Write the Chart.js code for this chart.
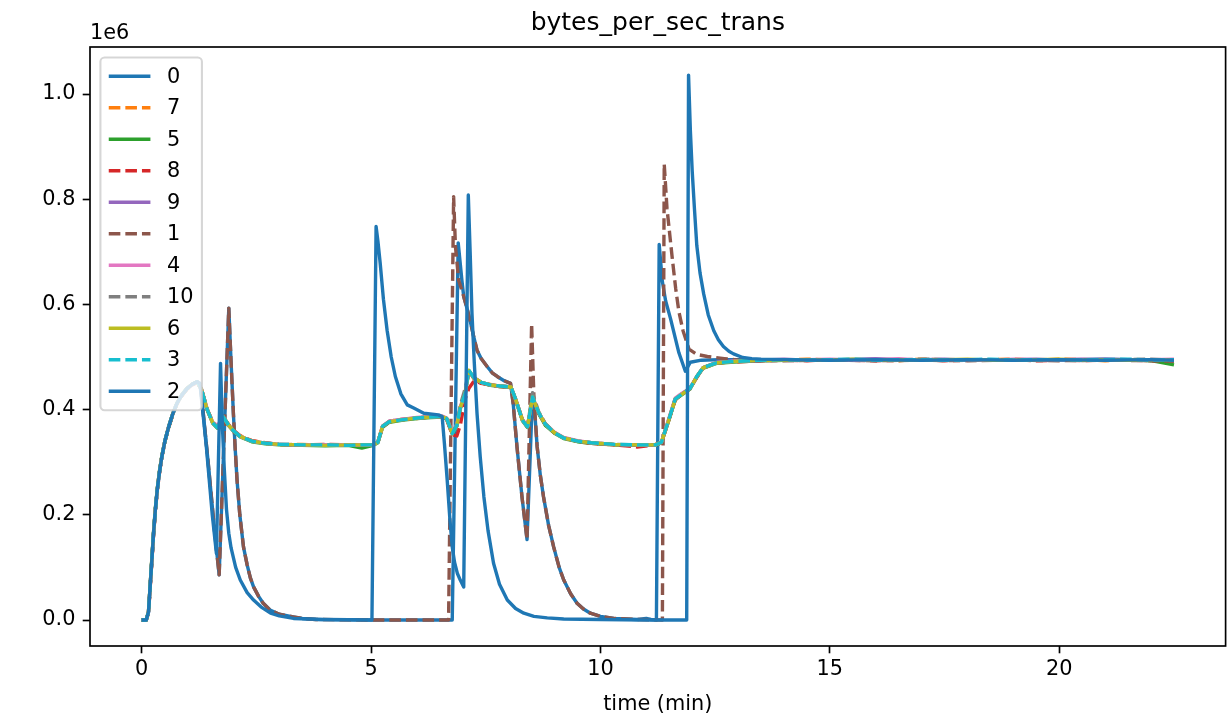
<!DOCTYPE html>
<html><head><meta charset="utf-8">
<script src="https://cdn.jsdelivr.net/npm/chart.js@4/dist/chart.umd.min.js"></script>
<style>html,body{margin:0;padding:0;background:#fff;}canvas{display:block;}</style>
</head><body>
<canvas id="c" width="1227" height="725" style="width:1227px;height:725px"></canvas>
<script>
// ---------------- data (values in units of 1e6 bytes/s) ----------------
const seriesLabels = ['0', '7', '5', '8', '9', '1', '4', '10', '6', '3', '2'];
const xTickValues = [0, 5, 10, 15, 20];
const xTickLabels = ['0', '5', '10', '15', '20'];
const yTickValues = [0, 0.2, 0.4, 0.6, 0.8, 1.0];
const yTickLabels = ['0.0', '0.2', '0.4', '0.6', '0.8', '1.0'];

// shared time axis (minutes) of the eight "steady" clients
const groupTime = [
 0, 0.1, 0.15, 0.19, 0.22, 0.26, 0.3, 0.34, 0.39, 0.44, 0.51, 0.59, 0.68, 0.77, 0.88, 0.99, 1.1, 1.21,
 1.3, 1.43, 1.55, 1.65, 1.78, 1.9, 2.0, 2.15, 2.4, 2.7,
 3.0, 3.5, 4.0, 4.5, 4.8, 5.05, 5.15, 5.25, 5.4, 5.7,
 6.0, 6.3, 6.55, 6.65, 6.77, 6.87, 6.95, 7.05, 7.13, 7.25,
 7.4, 7.6, 7.8, 8.05, 8.15, 8.3, 8.41, 8.52, 8.65, 8.8,
 9.0, 9.2, 9.5, 9.8, 10.3, 10.8, 11.2, 11.33, 11.41, 11.48,
 11.63, 11.74, 11.95, 12.1, 12.24, 12.53, 13.0, 13.5, 14, 14.5,
 15, 15.5, 16, 16.5, 17, 17.5, 18, 18.5, 19, 19.5,
 20, 20.5, 21, 21.5, 22, 22.5];

const values7 = [
 0, 0, 0.014, 0.068, 0.108, 0.163, 0.209, 0.246, 0.281, 0.31, 0.34, 0.366, 0.391, 0.411, 0.427, 0.44, 0.447, 0.452,
 0.441, 0.401, 0.376, 0.367, 0.385, 0.371, 0.36, 0.35, 0.341, 0.336,
 0.333, 0.334, 0.332, 0.333, 0.332, 0.334, 0.339, 0.367, 0.378, 0.382,
 0.383, 0.387, 0.386, 0.382, 0.356, 0.368, 0.402, 0.428, 0.472, 0.458,
 0.451, 0.448, 0.444, 0.442, 0.419, 0.381, 0.368, 0.422, 0.394, 0.371,
 0.355, 0.347, 0.339, 0.336, 0.333, 0.332, 0.334, 0.339, 0.358, 0.377,
 0.418, 0.428, 0.439, 0.461, 0.479, 0.488, 0.493, 0.495, 0.494, 0.496,
 0.494, 0.495, 0.495, 0.493, 0.496, 0.495, 0.494, 0.495, 0.496, 0.494,
 0.496, 0.495, 0.493, 0.495, 0.495, 0.494];
const values5 = [
 0, 0, 0.017, 0.072, 0.113, 0.168, 0.213, 0.249, 0.284, 0.312, 0.342, 0.368, 0.393, 0.413, 0.429, 0.441, 0.448, 0.452,
 0.439, 0.399, 0.374, 0.365, 0.384, 0.369, 0.359, 0.348, 0.339, 0.335,
 0.333, 0.332, 0.331, 0.332, 0.327, 0.332, 0.337, 0.366, 0.376, 0.38,
 0.383, 0.385, 0.386, 0.382, 0.354, 0.369, 0.404, 0.429, 0.473, 0.459,
 0.451, 0.446, 0.444, 0.442, 0.418, 0.379, 0.366, 0.422, 0.393, 0.37,
 0.355, 0.345, 0.339, 0.336, 0.333, 0.332, 0.332, 0.337, 0.359, 0.377,
 0.419, 0.426, 0.439, 0.462, 0.479, 0.488, 0.491, 0.493, 0.494, 0.495,
 0.494, 0.495, 0.495, 0.494, 0.494, 0.495, 0.494, 0.495, 0.495, 0.494,
 0.494, 0.495, 0.494, 0.495, 0.493, 0.485];
const values8 = [
 0, 0, 0.013, 0.066, 0.107, 0.162, 0.207, 0.245, 0.28, 0.309, 0.34, 0.366, 0.391, 0.411, 0.427, 0.439, 0.447, 0.452,
 0.44, 0.4, 0.376, 0.367, 0.386, 0.371, 0.361, 0.35, 0.341, 0.337,
 0.334, 0.333, 0.334, 0.333, 0.332, 0.333, 0.338, 0.367, 0.377, 0.381,
 0.384, 0.386, 0.386, 0.381, 0.352, 0.35, 0.372, 0.42, 0.44, 0.455,
 0.45, 0.447, 0.444, 0.443, 0.42, 0.381, 0.367, 0.423, 0.394, 0.372,
 0.356, 0.346, 0.34, 0.336, 0.333, 0.329, 0.333, 0.337, 0.359, 0.377,
 0.419, 0.427, 0.44, 0.462, 0.48, 0.489, 0.491, 0.493, 0.494, 0.493,
 0.495, 0.494, 0.493, 0.494, 0.495, 0.493, 0.494, 0.494, 0.495, 0.493,
 0.494, 0.493, 0.494, 0.494, 0.493, 0.494];
const values9 = [
 0, 0, 0.015, 0.07, 0.111, 0.166, 0.211, 0.248, 0.283, 0.311, 0.342, 0.368, 0.392, 0.412, 0.428, 0.44, 0.448, 0.453,
 0.44, 0.4, 0.375, 0.366, 0.385, 0.37, 0.36, 0.349, 0.34, 0.336,
 0.334, 0.333, 0.333, 0.333, 0.333, 0.333, 0.338, 0.368, 0.378, 0.382,
 0.384, 0.386, 0.387, 0.383, 0.355, 0.37, 0.404, 0.43, 0.474, 0.46,
 0.452, 0.447, 0.445, 0.443, 0.42, 0.38, 0.367, 0.424, 0.395, 0.372,
 0.356, 0.346, 0.34, 0.337, 0.334, 0.333, 0.333, 0.338, 0.36, 0.379,
 0.421, 0.428, 0.44, 0.463, 0.48, 0.49, 0.493, 0.494, 0.496, 0.494,
 0.495, 0.495, 0.497, 0.494, 0.495, 0.496, 0.494, 0.495, 0.495, 0.496,
 0.494, 0.495, 0.496, 0.495, 0.495, 0.494];
const values4 = [
 0, 0, 0.016, 0.069, 0.11, 0.164, 0.21, 0.247, 0.282, 0.31, 0.341, 0.367, 0.392, 0.412, 0.428, 0.44, 0.447, 0.452,
 0.44, 0.401, 0.376, 0.37, 0.386, 0.37, 0.36, 0.349, 0.34, 0.336,
 0.334, 0.333, 0.333, 0.333, 0.333, 0.333, 0.339, 0.369, 0.378, 0.382,
 0.385, 0.387, 0.388, 0.384, 0.357, 0.372, 0.407, 0.432, 0.474, 0.46,
 0.452, 0.447, 0.445, 0.443, 0.42, 0.38, 0.368, 0.424, 0.395, 0.373,
 0.357, 0.347, 0.341, 0.337, 0.334, 0.333, 0.333, 0.338, 0.361, 0.38,
 0.422, 0.429, 0.441, 0.463, 0.48, 0.489, 0.493, 0.494, 0.495, 0.495,
 0.496, 0.494, 0.495, 0.497, 0.494, 0.495, 0.495, 0.494, 0.496, 0.495,
 0.495, 0.496, 0.494, 0.495, 0.495, 0.496];
const values10 = [
 0, 0, 0.015, 0.07, 0.11, 0.165, 0.21, 0.247, 0.282, 0.31, 0.341, 0.367, 0.392, 0.412, 0.428, 0.44, 0.448, 0.453,
 0.44, 0.4, 0.375, 0.366, 0.386, 0.37, 0.36, 0.349, 0.34, 0.336,
 0.334, 0.333, 0.333, 0.332, 0.333, 0.333, 0.338, 0.368, 0.377, 0.381,
 0.384, 0.386, 0.387, 0.383, 0.356, 0.371, 0.41, 0.44, 0.472, 0.46,
 0.452, 0.447, 0.445, 0.443, 0.42, 0.38, 0.368, 0.432, 0.397, 0.373,
 0.356, 0.346, 0.34, 0.337, 0.334, 0.333, 0.333, 0.338, 0.36, 0.378,
 0.42, 0.427, 0.44, 0.463, 0.48, 0.489, 0.492, 0.493, 0.495, 0.495,
 0.494, 0.495, 0.495, 0.494, 0.496, 0.495, 0.494, 0.495, 0.495, 0.494,
 0.495, 0.495, 0.494, 0.495, 0.496, 0.494];
const values6 = [
 0, 0, 0.016, 0.071, 0.112, 0.166, 0.211, 0.248, 0.283, 0.311, 0.341, 0.367, 0.392, 0.412, 0.428, 0.44, 0.448, 0.453,
 0.44, 0.4, 0.375, 0.366, 0.386, 0.37, 0.36, 0.349, 0.34, 0.336,
 0.334, 0.333, 0.332, 0.333, 0.333, 0.333, 0.338, 0.368, 0.377, 0.381,
 0.384, 0.386, 0.387, 0.383, 0.355, 0.37, 0.405, 0.43, 0.475, 0.46,
 0.452, 0.447, 0.445, 0.443, 0.42, 0.38, 0.367, 0.424, 0.395, 0.372,
 0.356, 0.346, 0.34, 0.337, 0.334, 0.333, 0.333, 0.338, 0.36, 0.378,
 0.42, 0.427, 0.44, 0.463, 0.48, 0.489, 0.492, 0.494, 0.494, 0.495,
 0.494, 0.496, 0.494, 0.495, 0.494, 0.495, 0.496, 0.494, 0.494, 0.495,
 0.496, 0.494, 0.495, 0.494, 0.495, 0.494];
const values3 = [
 0, 0, 0.015, 0.07, 0.11, 0.165, 0.21, 0.247, 0.282, 0.31, 0.341, 0.367, 0.392, 0.412, 0.428, 0.44, 0.448, 0.453,
 0.44, 0.4, 0.375, 0.366, 0.386, 0.37, 0.36, 0.349, 0.34, 0.336,
 0.334, 0.333, 0.333, 0.332, 0.333, 0.333, 0.338, 0.368, 0.377, 0.381,
 0.384, 0.386, 0.387, 0.383, 0.355, 0.37, 0.405, 0.43, 0.475, 0.46,
 0.452, 0.447, 0.445, 0.443, 0.42, 0.38, 0.367, 0.424, 0.395, 0.372,
 0.356, 0.346, 0.34, 0.337, 0.334, 0.333, 0.333, 0.338, 0.36, 0.378,
 0.42, 0.427, 0.44, 0.463, 0.48, 0.489, 0.492, 0.494, 0.495, 0.494,
 0.495, 0.496, 0.494, 0.495, 0.495, 0.494, 0.495, 0.496, 0.494, 0.495,
 0.495, 0.494, 0.495, 0.496, 0.494, 0.495];

// client 0
const time0 = [
 0, 0.1, 0.15, 0.19, 0.22, 0.26, 0.3, 0.34, 0.39, 0.44,
 0.51, 0.59, 0.68, 0.77, 0.88, 0.99, 1.1, 1.21, 1.29, 1.45,
 1.6, 1.69, 1.9, 1.95, 2.0, 2.04, 2.08, 2.14, 2.22, 2.3,
 2.37, 2.44, 2.55, 2.65, 2.8, 3.0, 3.3, 3.5, 3.8, 5.0,
 6.0, 6.77, 6.9, 6.98, 7.02, 7.1, 7.17, 7.24, 7.31, 7.4,
 7.53, 7.64, 7.75, 7.9, 8.04, 8.1, 8.18, 8.29, 8.4, 8.52,
 8.58, 8.62, 8.69, 8.76, 8.87, 8.98, 9.1, 9.2, 9.35, 9.49,
 9.63, 9.78, 10.0, 10.29, 10.8, 11.0, 11.1, 11.22, 11.28, 11.35,
 11.42, 11.53, 11.71, 11.85, 11.96, 12.2, 12.6, 13.0, 14, 15,
 16, 17, 18, 19, 20, 21, 22, 22.5];
const values0 = [
 0, 0, 0.015, 0.07, 0.11, 0.165, 0.21, 0.247, 0.282, 0.31,
 0.341, 0.367, 0.392, 0.412, 0.428, 0.44, 0.448, 0.453, 0.44, 0.3,
 0.16, 0.086, 0.593, 0.49, 0.393, 0.325, 0.266, 0.2, 0.139, 0.105,
 0.08, 0.063, 0.045, 0.032, 0.019, 0.011, 0.006, 0.003, 0.001, 0,
 0, 0, 0.717, 0.646, 0.615, 0.59, 0.565, 0.538, 0.513, 0.497,
 0.482, 0.47, 0.463, 0.455, 0.45, 0.41, 0.33, 0.234, 0.153, 0.43,
 0.38, 0.33, 0.275, 0.234, 0.18, 0.139, 0.1, 0.076, 0.05, 0.032,
 0.021, 0.013, 0.007, 0.003, 0.001, 0.003, 0.001, 0, 0.714, 0.643,
 0.607, 0.572, 0.508, 0.473, 0.49, 0.494, 0.495, 0.495, 0.494, 0.495,
 0.496, 0.494, 0.495, 0.494, 0.495, 0.496, 0.494, 0.495];

// client 1
const time1 = [
 0, 0.1, 0.15, 0.19, 0.22, 0.26, 0.3, 0.34, 0.39, 0.44,
 0.51, 0.59, 0.68, 0.77, 0.88, 0.99, 1.1, 1.21, 1.29, 1.45,
 1.6, 1.69, 1.9, 1.95, 2.0, 2.04, 2.08, 2.14, 2.22, 2.3,
 2.37, 2.44, 2.55, 2.65, 2.8, 3.0, 3.3, 3.5, 3.8, 5.0,
 6.0, 6.69, 6.8, 6.84, 6.91, 7.02, 7.1, 7.17, 7.24, 7.31,
 7.4, 7.53, 7.64, 7.75, 7.9, 8.04, 8.1, 8.18, 8.29, 8.4,
 8.5, 8.55, 8.62, 8.69, 8.76, 8.87, 8.98, 9.1, 9.2, 9.35,
 9.49, 9.63, 9.78, 10.0, 10.29, 10.8, 11.35, 11.39, 11.45, 11.56,
 11.64, 11.71, 11.8, 11.93, 12.1, 12.33, 12.7, 13.0, 14, 15,
 16, 17, 18, 19, 20, 21, 22, 22.5];
const values1 = [
 0, 0, 0.014, 0.068, 0.108, 0.163, 0.208, 0.246, 0.281, 0.31,
 0.34, 0.367, 0.391, 0.412, 0.427, 0.44, 0.447, 0.452, 0.44, 0.3,
 0.16, 0.086, 0.593, 0.49, 0.393, 0.325, 0.266, 0.2, 0.139, 0.105,
 0.08, 0.063, 0.045, 0.032, 0.019, 0.011, 0.006, 0.003, 0.001, 0,
 0, 0, 0.805, 0.71, 0.646, 0.615, 0.59, 0.565, 0.538, 0.513,
 0.497, 0.482, 0.47, 0.463, 0.455, 0.45, 0.41, 0.33, 0.234, 0.153,
 0.563, 0.424, 0.33, 0.275, 0.234, 0.18, 0.139, 0.1, 0.076, 0.05,
 0.032, 0.021, 0.013, 0.007, 0.003, 0.001, 0, 0.867, 0.783, 0.692,
 0.63, 0.586, 0.55, 0.515, 0.505, 0.501, 0.497, 0.494, 0.493, 0.494,
 0.493, 0.494, 0.493, 0.494, 0.493, 0.494, 0.493, 0.492];

// client 2
const time2 = [
 0, 0.1, 0.15, 0.19, 0.22, 0.26, 0.3, 0.34, 0.39, 0.44,
 0.51, 0.59, 0.68, 0.77, 0.88, 0.99, 1.1, 1.21, 1.27, 1.41,
 1.54, 1.63, 1.72, 1.76, 1.8, 1.85, 1.9, 1.95, 2.05, 2.15,
 2.3, 2.44, 2.6, 2.81, 3.0, 3.31, 4.0, 5.02, 5.11, 5.15,
 5.2, 5.27, 5.35, 5.44, 5.53, 5.65, 5.79, 5.93, 6.15, 6.47,
 6.55, 6.6, 6.66, 6.72, 6.77, 6.82, 6.88, 6.95, 7.02, 7.12,
 7.16, 7.2, 7.25, 7.31, 7.38, 7.46, 7.55, 7.67, 7.8, 7.97,
 8.15, 8.33, 8.55, 8.84, 9.2, 10.0, 11.0, 11.88, 11.92, 11.96,
 12.0, 12.05, 12.1, 12.17, 12.25, 12.35, 12.47, 12.57, 12.68, 12.8,
 12.9, 13.1, 13.3, 13.5, 14, 15, 16, 17, 18, 19,
 20, 21, 22, 22.5];
const values2 = [
 0, 0, 0.015, 0.07, 0.11, 0.165, 0.21, 0.247, 0.282, 0.31,
 0.341, 0.367, 0.392, 0.412, 0.428, 0.44, 0.448, 0.453, 0.45, 0.33,
 0.2, 0.127, 0.488, 0.37, 0.29, 0.21, 0.165, 0.137, 0.1, 0.076,
 0.052, 0.038, 0.025, 0.013, 0.008, 0.003, 0.001, 0, 0.748, 0.72,
 0.678, 0.61, 0.551, 0.5, 0.463, 0.43, 0.409, 0.403, 0.393, 0.39,
 0.387, 0.335, 0.266, 0.19, 0.139, 0.11, 0.089, 0.075, 0.063, 0.808,
 0.7, 0.583, 0.49, 0.393, 0.31, 0.234, 0.17, 0.108, 0.068, 0.038,
 0.022, 0.013, 0.007, 0.004, 0.002, 0.001, 0, 0, 1.036, 0.93,
 0.853, 0.78, 0.712, 0.66, 0.62, 0.58, 0.55, 0.533, 0.52, 0.511,
 0.506, 0.499, 0.497, 0.496, 0.495, 0.494, 0.495, 0.494, 0.495, 0.494,
 0.495, 0.494, 0.495, 0.494];

// per-series (legend order) references
const seriesTimes = [time0, groupTime, groupTime, groupTime, groupTime, time1, groupTime, groupTime, groupTime, groupTime, time2];
const seriesValues = [values0, values7, values5, values8, values9, values1, values4, values10, values6, values3, values2];

// ---------------- styles ----------------
const seriesColors = ['#1f77b4', '#ff7f0e', '#2ca02c', '#d62728', '#9467bd', '#8c564b', '#e377c2', '#7f7f7f', '#bcbd22', '#17becf', '#1f77b4'];
const seriesDashed = [false, true, false, true, false, true, false, true, false, true, false];

const PT = 150 / 72;
const FONT = "'DejaVu Sans', sans-serif";
const LW = 3.4;
const DASH = [11.6, 5.0];
const FS = 10 * PT;

const datasets = seriesLabels.map((lab, i) => ({
  label: lab,
  data: seriesTimes[i].map((t, k) => ({ x: t, y: seriesValues[i][k] })),
  borderColor: seriesColors[i],
  backgroundColor: seriesColors[i],
  borderWidth: LW,
  borderDash: seriesDashed[i] ? DASH : [],
  borderJoinStyle: 'round',
  borderCapStyle: 'butt',
  pointRadius: 0,
  pointHoverRadius: 0,
  tension: 0,
  fill: false,
  order: seriesLabels.length - 1 - i
}));

const decor = {
  id: 'decor',
  afterDatasetsDraw(chart) {
    const ctx = chart.ctx, a = chart.chartArea;
    ctx.save();
    // spines
    ctx.strokeStyle = '#000';
    ctx.lineWidth = 0.8 * PT;
    ctx.lineCap = 'square';
    ctx.strokeRect(a.left, a.top, a.right - a.left, a.bottom - a.top);

    // legend
    const bx = a.left + 0.5 * FS, by = a.top + 0.5 * FS;
    const pad = 0.4 * FS, rowH = 31.5, textH = 21.1;
    const n = seriesLabels.length;
    const bw = 101.5, bh = 2 * pad + n * textH + (n - 1) * (rowH - textH);
    const r = 0.2 * FS;
    ctx.beginPath();
    ctx.moveTo(bx + r, by);
    ctx.lineTo(bx + bw - r, by);
    ctx.arcTo(bx + bw, by, bx + bw, by + r, r);
    ctx.lineTo(bx + bw, by + bh - r);
    ctx.arcTo(bx + bw, by + bh, bx + bw - r, by + bh, r);
    ctx.lineTo(bx + r, by + bh);
    ctx.arcTo(bx, by + bh, bx, by + bh - r, r);
    ctx.lineTo(bx, by + r);
    ctx.arcTo(bx, by, bx + r, by, r);
    ctx.closePath();
    ctx.fillStyle = 'rgba(255,255,255,0.8)';
    ctx.fill();
    ctx.strokeStyle = 'rgba(204,204,204,0.8)';
    ctx.lineWidth = 1.0 * PT;
    ctx.stroke();

    ctx.font = FS + 'px ' + FONT;
    ctx.textAlign = 'left';
    ctx.textBaseline = 'middle';
    for (let i = 0; i < n; i++) {
      const y = by + pad + textH / 2 + i * rowH;
      const x0 = bx + pad, x1 = x0 + 2 * FS;
      ctx.beginPath();
      ctx.strokeStyle = seriesColors[i];
      ctx.lineWidth = LW;
      ctx.setLineDash(seriesDashed[i] ? DASH : []);
      ctx.lineCap = seriesDashed[i] ? 'butt' : 'square';
      ctx.moveTo(x0 + (seriesDashed[i] ? 0 : LW / 2), y);
      ctx.lineTo(x1 - (seriesDashed[i] ? 0 : LW / 2), y);
      ctx.stroke();
      ctx.setLineDash([]);
      ctx.fillStyle = '#000';
      ctx.fillText(seriesLabels[i], x1 + 0.8 * FS, y + 1);
    }
    ctx.restore();
  },
  afterDraw(chart) {
    const ctx = chart.ctx, a = chart.chartArea;
    ctx.save();
    ctx.fillStyle = '#000';
    ctx.textBaseline = 'alphabetic';
    ctx.textAlign = 'center';
    ctx.font = (12 * PT) + 'px ' + FONT;
    ctx.fillText('bytes_per_sec_trans', (a.left + a.right) / 2, 30);
    ctx.font = FS + 'px ' + FONT;
    ctx.fillText('time (min)', (a.left + a.right) / 2, 710);
    ctx.textAlign = 'left';
    ctx.fillText('1e6', a.left, 39);
    ctx.restore();
  }
};

new Chart(document.getElementById('c'), {
  type: 'line',
  data: { datasets },
  options: {
    responsive: false,
    maintainAspectRatio: false,
    devicePixelRatio: 1,
    animation: false,
    events: [],
    layout: { padding: { left: 0, top: 47, right: 1.4, bottom: 0 } },
    plugins: { legend: { display: false }, tooltip: { enabled: false }, title: { display: false } },
    scales: {
      x: {
        type: 'linear',
        min: -1.125, max: 23.625,
        afterBuildTicks: s => { s.ticks = xTickValues.map(v => ({ value: v })); },
        afterFit: s => { s.height = 79; },
        grid: { display: true, drawOnChartArea: false, drawTicks: true, tickLength: 3.5 * PT, tickWidth: 0.8 * PT, tickColor: '#000' },
        border: { display: false },
        ticks: { padding: 4, color: '#000', maxRotation: 0, autoSkip: false,
          font: { family: FONT, size: FS },
          callback: (v, i) => xTickLabels[i] }
      },
      y: {
        type: 'linear',
        min: -0.0494, max: 1.0894,
        afterBuildTicks: s => { s.ticks = yTickValues.map(v => ({ value: v })); },
        afterFit: s => { s.width = 90; },
        grid: { display: true, drawOnChartArea: false, drawTicks: true, tickLength: 3.5 * PT, tickWidth: 0.8 * PT, tickColor: '#000' },
        border: { display: false },
        ticks: { padding: 3.5 * PT, color: '#000', autoSkip: false,
          font: { family: FONT, size: FS },
          callback: (v, i) => yTickLabels[i] }
      }
    }
  },
  plugins: [decor]
});
</script>
</body></html>
